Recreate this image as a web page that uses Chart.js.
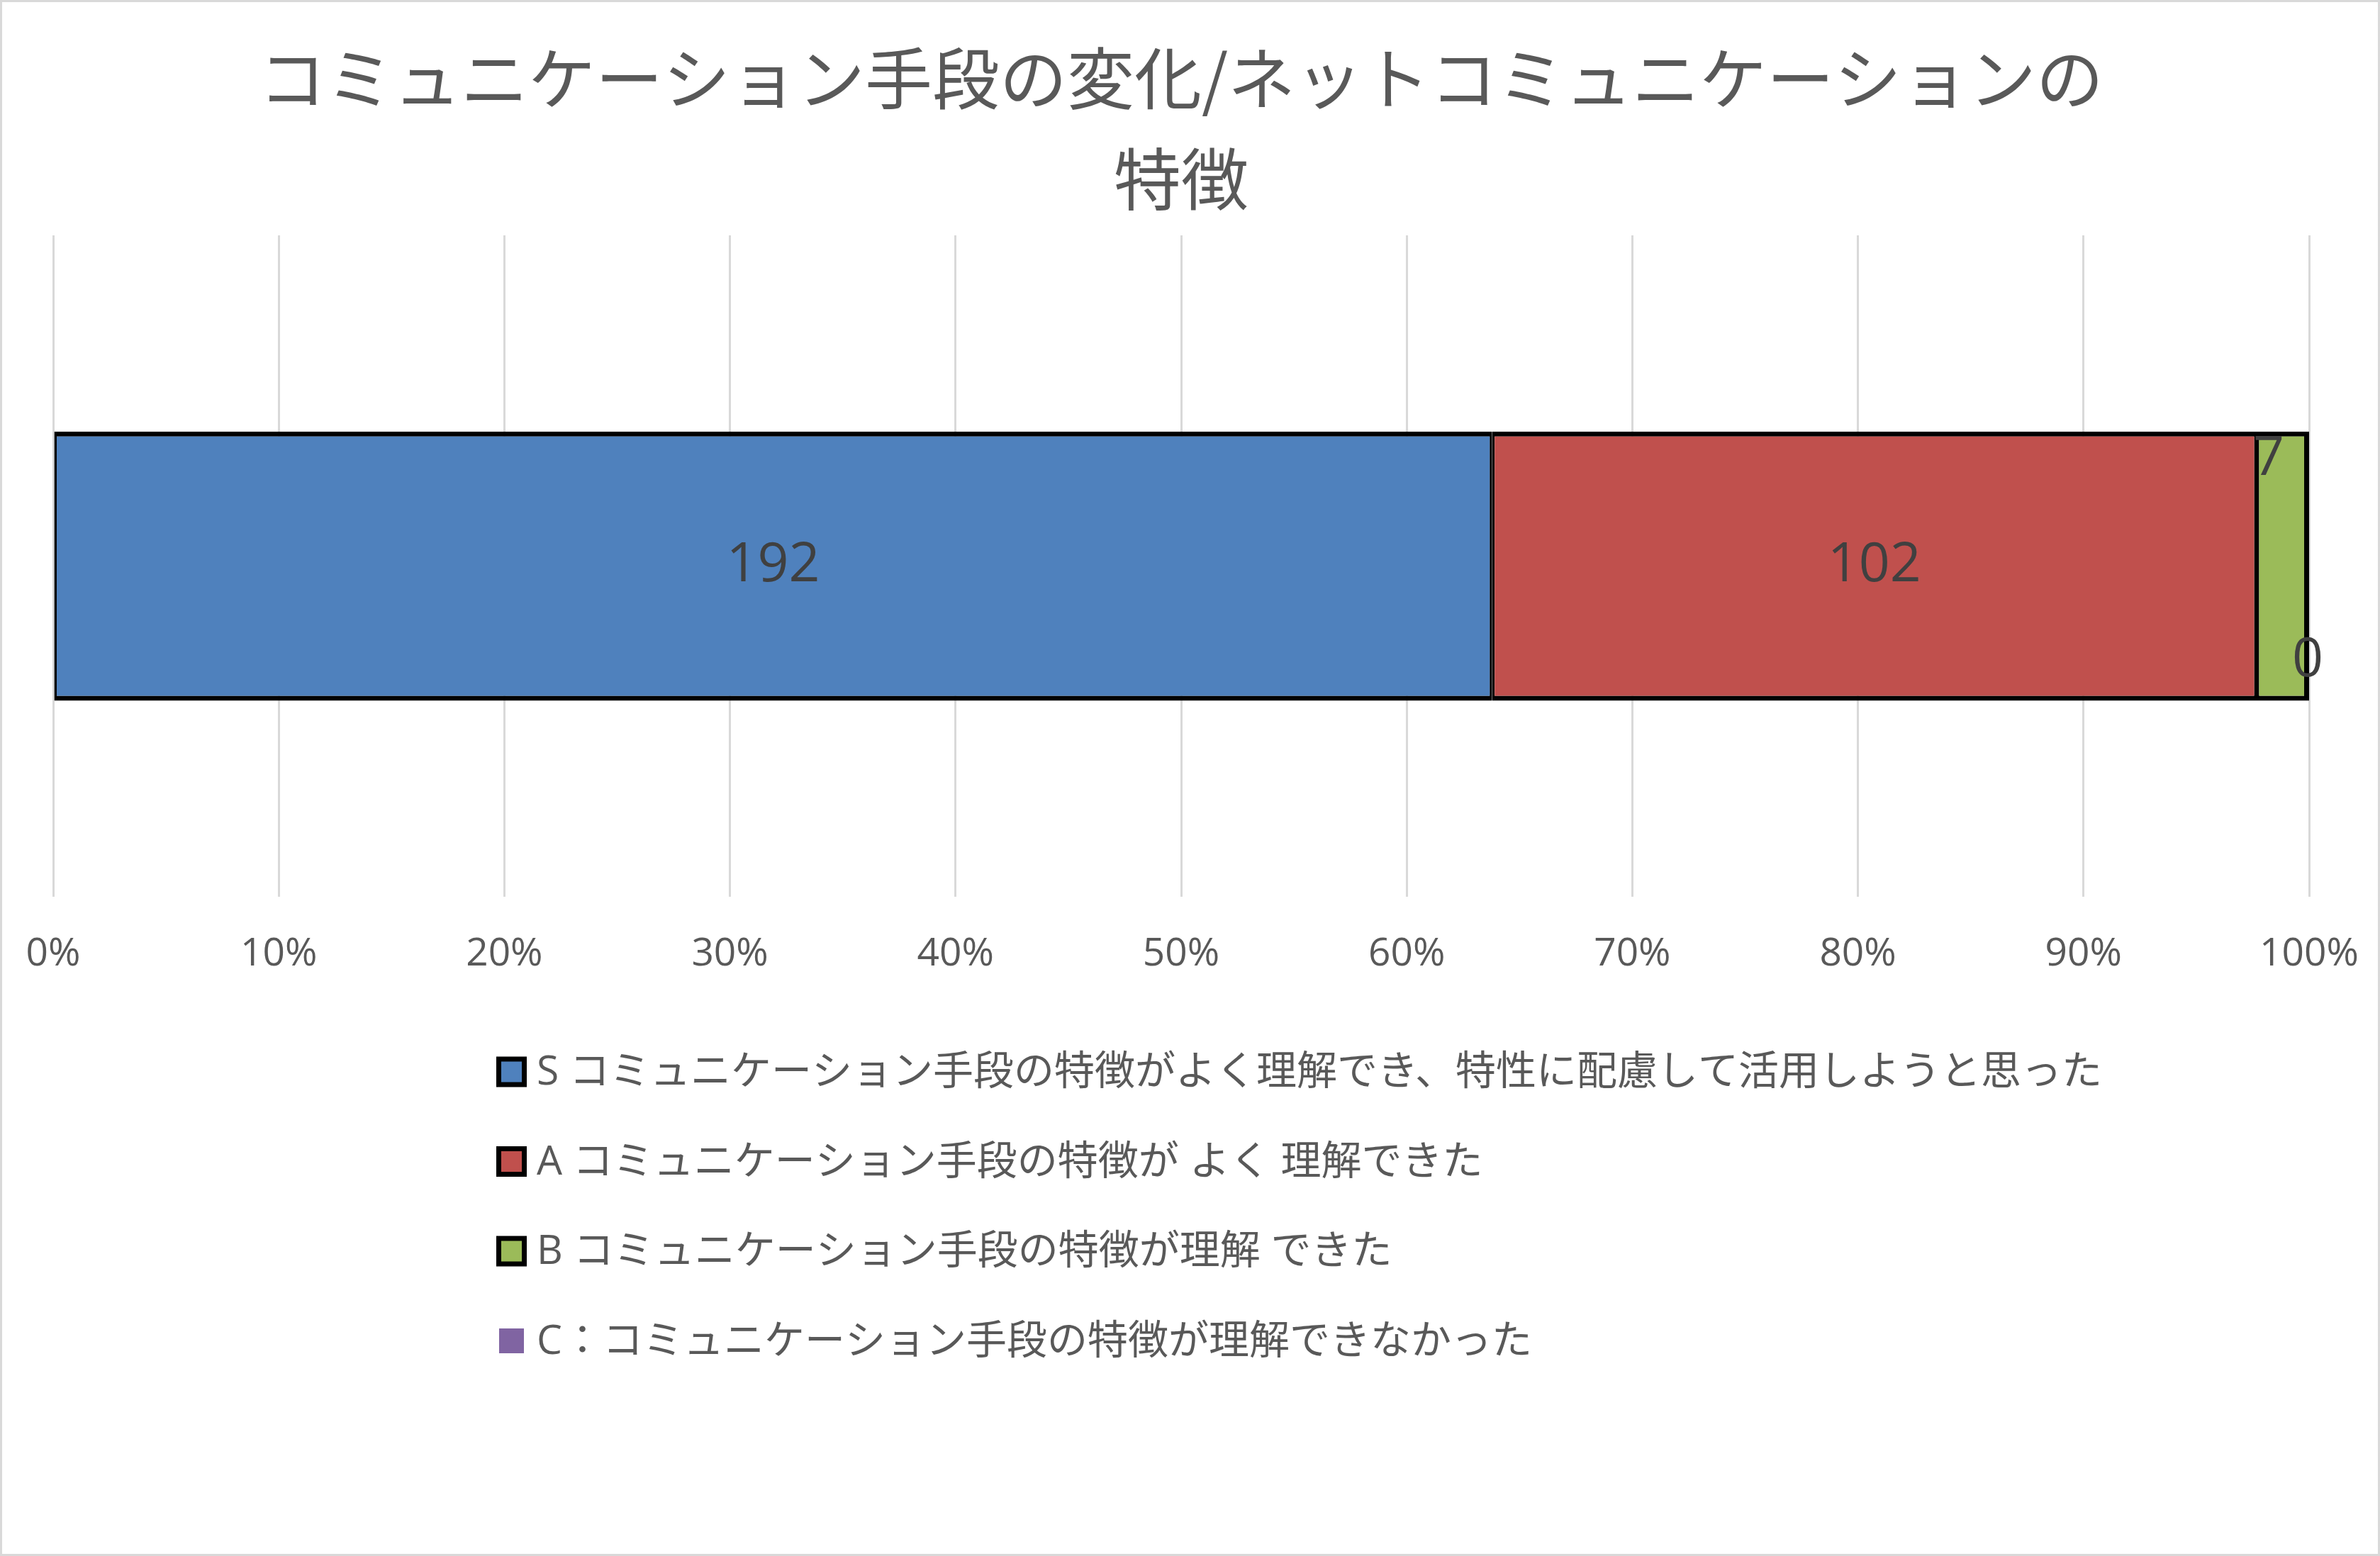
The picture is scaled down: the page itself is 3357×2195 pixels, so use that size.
<!DOCTYPE html>
<html>
<head>
<meta charset="utf-8">
<script src="https://cdn.jsdelivr.net/npm/chart.js@4"></script>
<style>
  html, body { margin: 0; padding: 0; background: #fff; }
  canvas { display: block; }
</style>
</head>
<body>
<canvas id="myChart" width="3357" height="2195"></canvas>
<script>
const titleLines = ['コミュニケーション手段の変化/ネットコミュニケーションの', '特徴'];
const categories = [''];
const seriesNames = [
    'S コミュニケーション手段の特徴がよく理解でき、特性に配慮して活用しようと思った',
    'A コミュニケーション手段の特徴が よく 理解できた',
    'B コミュニケーション手段の特徴が理解 できた',
    'C：コミュニケーション手段の特徴が理解できなかった'
];
const valuesS = [192];
const valuesA = [102];
const valuesB = [7];
const valuesC = [0];
const tickPercents = [0, 10, 20, 30, 40, 50, 60, 70, 80, 90, 100];

const seriesValues = [valuesS, valuesA, valuesB, valuesC];
const seriesColors = ['#4F81BD', '#C0504D', '#9BBB59', '#8064A2'];

// 100% stacked: shares per category
const totals = categories.map((c, i) => seriesValues.reduce((s, arr) => s + arr[i], 0));
const toPercent = arr => arr.map((v, i) => v / totals[i] * 100);

const FONT_LATIN = '"Open Sans", "Noto Sans CJK JP", sans-serif';
const FONT_CJK = '"Noto Sans CJK JP", "Open Sans", sans-serif';

Chart.defaults.font.family = FONT_LATIN;
Chart.defaults.color = '#595959';

// borders: shared edges between segments end up ~7px like in Excel
const borderFor = i => {
    if (i === 3) return 0;
    return { top: 7, bottom: 7, left: 3.5, right: i === 2 ? 7 : 3.5 };
};

// label nudges for the narrow segments (as placed in the original)
const labelNudge = [[0, 0], [0, 0], [-20, -150], [-2, 134]];

const backgroundPlugin = {
    id: 'frame',
    beforeDraw(chart) {
        const { ctx, width, height } = chart;
        ctx.save();
        ctx.fillStyle = '#ffffff';
        ctx.fillRect(0, 0, width, height);
        ctx.strokeStyle = '#d9d9d9';
        ctx.lineWidth = 3;
        ctx.strokeRect(1.5, 1.5, width - 3, height - 3);
        ctx.restore();
    }
};

const valueLabels = {
    id: 'valueLabels',
    afterDatasetsDraw(chart) {
        const { ctx } = chart;
        ctx.save();
        ctx.font = '77px ' + FONT_LATIN;
        ctx.fillStyle = '#404040';
        ctx.textAlign = 'center';
        ctx.textBaseline = 'middle';
        chart.data.datasets.forEach((ds, di) => {
            const meta = chart.getDatasetMeta(di);
            meta.data.forEach((bar, j) => {
                const cx = (bar.x + bar.base) / 2 + labelNudge[di][0];
                const cy = bar.y + labelNudge[di][1];
                ctx.fillText(String(ds.rawValues[j]), cx, cy);
            });
        });
        ctx.restore();
    }
};

const stackedLegend = {
    id: 'stackedLegend',
    afterDraw(chart) {
        const { ctx } = chart;
        const top = chart.chartArea.bottom + 247;
        const rowGap = 126.5;
        ctx.save();
        ctx.font = '57px ' + FONT_LATIN;
        ctx.textBaseline = 'middle';
        ctx.textAlign = 'left';
        chart.data.datasets.forEach((ds, i) => {
            const y = top + i * rowGap;
            if (ds.borderWidth) {
                ctx.fillStyle = '#000000';
                ctx.fillRect(700, y - 21.5, 43, 43);
                ctx.fillStyle = ds.backgroundColor;
                ctx.fillRect(707, y - 14.5, 29, 29);
            } else {
                ctx.fillStyle = ds.backgroundColor;
                ctx.fillRect(704, y - 17.5, 35, 35);
            }
            ctx.fillStyle = '#595959';
            ctx.fillText(ds.label, 757, y + 2);
        });
        ctx.restore();
    }
};

document.addEventListener('DOMContentLoaded', function () {
    const ctx = document.getElementById('myChart');

    new Chart(ctx, {
        type: 'bar',
        data: {
            labels: categories,
            datasets: seriesNames.map((name, i) => ({
                label: name,
                data: toPercent(seriesValues[i]),
                rawValues: seriesValues[i],
                backgroundColor: seriesColors[i],
                borderColor: '#000000',
                borderWidth: borderFor(i),
                borderSkipped: false,
                barPercentage: 0.407,
                categoryPercentage: 1.0
            }))
        },
        options: {
            indexAxis: 'y',
            responsive: false,
            animation: false,
            devicePixelRatio: 1,
            layout: {
                padding: { left: 75, right: 100, top: 0, bottom: 816 }
            },
            scales: {
                x: {
                    stacked: true,
                    min: 0,
                    max: 100,
                    afterBuildTicks: axis => {
                        axis.ticks = tickPercents.map(v => ({ value: v }));
                    },
                    ticks: {
                        padding: 0,
                        maxRotation: 0,
                        minRotation: 0,
                        color: '#595959',
                        font: { size: 55, lineHeight: 1.2 },
                        callback: value => value + '%'
                    },
                    grid: {
                        color: '#d9d9d9',
                        lineWidth: 3,
                        drawTicks: true,
                        tickLength: 48,
                        tickColor: 'rgba(0,0,0,0)'
                    },
                    border: { display: false }
                },
                y: {
                    stacked: true,
                    display: false
                }
            },
            plugins: {
                title: {
                    display: true,
                    text: titleLines,
                    color: '#595959',
                    font: { family: FONT_CJK, size: 95, weight: 'normal', lineHeight: 1.495 },
                    padding: { top: 40, bottom: 8 }
                },
                legend: { display: false },
                tooltip: { enabled: false }
            }
        },
        plugins: [backgroundPlugin, valueLabels, stackedLegend]
    });
});
</script>
</body>
</html>
